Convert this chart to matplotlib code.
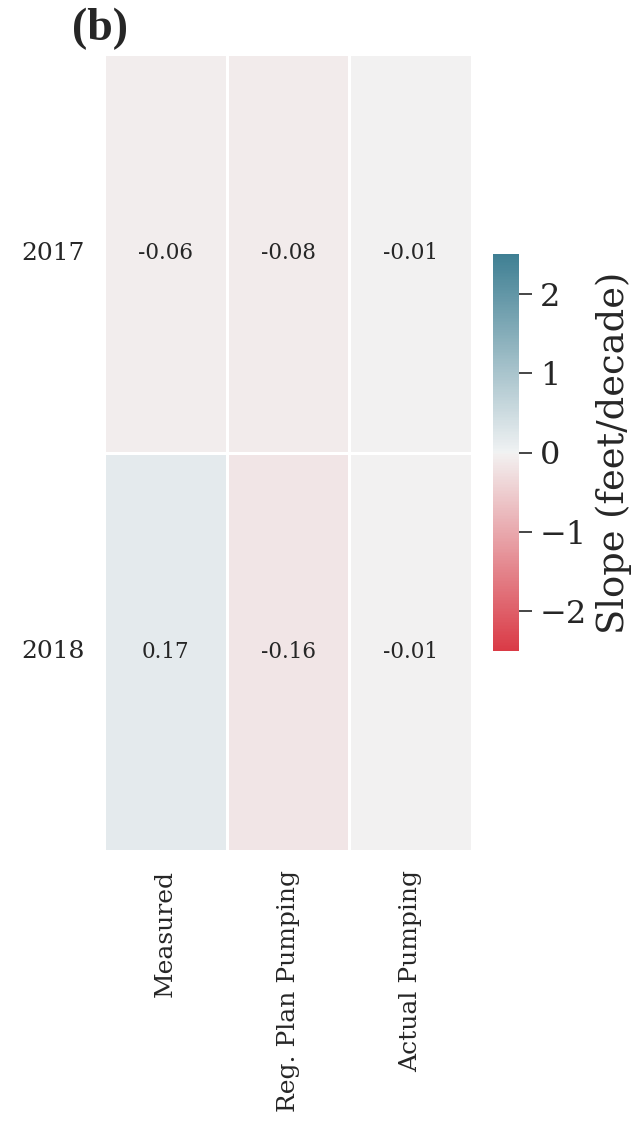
import numpy as np
import pandas as pd
import matplotlib
matplotlib.use('Agg')
import matplotlib.pyplot as plt
import seaborn as sns

# data
years = ['2017', '2018']
scenarios = ['Measured', 'Reg. Plan Pumping', 'Actual Pumping']
measured = [-0.06, 0.17]
reg_plan = [-0.08, -0.16]
actual = [-0.01, -0.01]

df = pd.DataFrame({'Measured': measured,
                   'Reg. Plan Pumping': reg_plan,
                   'Actual Pumping': actual}, index=years)[scenarios]

sns.set_style('white')
plt.rcParams['font.family'] = ['DejaVu Serif']
plt.rcParams['text.color'] = '#262626'
plt.rcParams['xtick.color'] = '#262626'
plt.rcParams['ytick.color'] = '#262626'

W, H = 633, 1121
fig = plt.figure(figsize=(W / 100, H / 100), dpi=100)
ax = fig.add_axes([104 / W, 1 - 851 / H, 368 / W, 797 / H])
cax = fig.add_axes([493 / W, 1 - 651 / H, 26 / W, 397 / H])

cmap = sns.diverging_palette(10, 220, as_cmap=True)
sns.heatmap(df, ax=ax, cbar_ax=cax, cmap=cmap, vmin=-2.5, vmax=2.5, center=0,
            annot=True, fmt='.2f', linewidths=2, linecolor='white',
            annot_kws={'fontsize': 15.5, 'color': '#262626'})

for t in ax.texts:
    t.set_text(t.get_text().replace('\u2212', '-'))

ax.tick_params(axis='both', length=0, labelsize=18, pad=14)
ax.set_yticklabels(years, rotation=0)
ax.set_xticklabels(scenarios, rotation=90)
ax.set_xlabel('')
ax.set_ylabel('')

cax.tick_params(labelsize=23, length=9, width=1.2, pad=6, color='#262626')
cax.set_ylabel('Slope (feet/decade)', fontsize=26.5, labelpad=6)

fig.text(72 / W, 1 - 40 / H, '(b)', fontsize=33, fontweight='bold',
         family='Liberation Serif', va='baseline')

fig.savefig('out.png', dpi=100)
